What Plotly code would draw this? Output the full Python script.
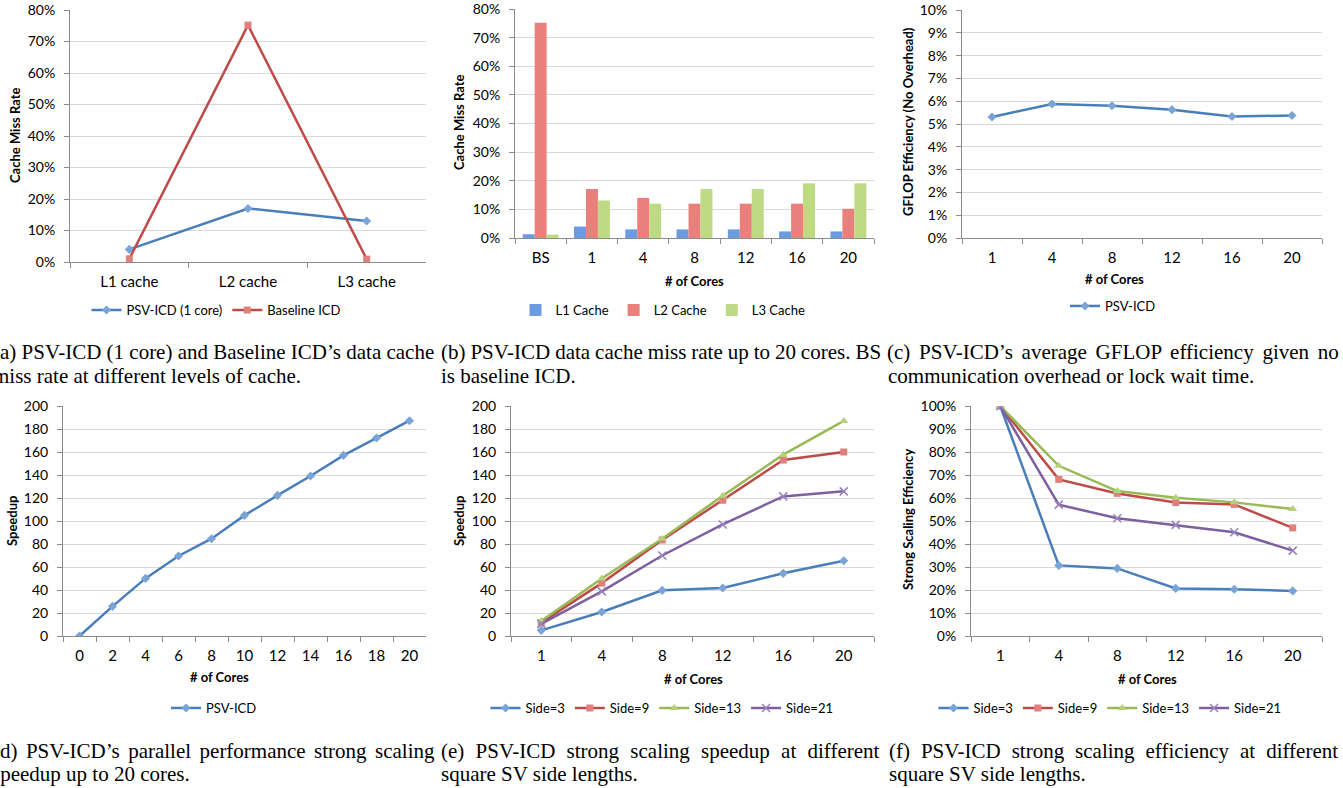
import plotly.graph_objects as go

W, H = 1343, 788

# ---------------- data ----------------
# (a)
cache_levels = ["L1 cache", "L2 cache", "L3 cache"]
psv_1core_miss = [0.040, 0.170, 0.130]
baseline_miss = [0.010, 0.752, 0.009]

# (b)
core_groups = ["BS", "1", "4", "8", "12", "16", "20"]
l1_miss = [0.013, 0.040, 0.030, 0.030, 0.030, 0.023, 0.023]
l2_miss = [0.752, 0.171, 0.140, 0.120, 0.120, 0.120, 0.102]
l3_miss = [0.012, 0.131, 0.120, 0.171, 0.171, 0.191, 0.191]

# (c)
cores = ["1", "4", "8", "12", "16", "20"]
gflop_eff = [0.0531, 0.0588, 0.0580, 0.0563, 0.0533, 0.0537]

# (d)
cores_d = ["0", "2", "4", "6", "8", "10", "12", "14", "16", "18", "20"]
speedup_d = [0, 25.8, 50.1, 69.6, 84.6, 104.9, 122.3, 139.1, 157.1, 172.2, 187.2]

# (e)
side3_speedup = [4.9, 20.9, 39.7, 41.7, 54.5, 65.5]
side9_speedup = [11.6, 46.0, 83.5, 118.0, 153.0, 160.0]
side13_speedup = [13.0, 50.0, 84.6, 122.0, 157.7, 187.0]
side21_speedup = [10.5, 38.8, 70.0, 97.0, 121.4, 125.8]

# (f)
side3_eff = [1.0, 0.307, 0.294, 0.207, 0.203, 0.196]
side9_eff = [1.0, 0.681, 0.620, 0.580, 0.572, 0.470]
side13_eff = [1.0, 0.740, 0.630, 0.601, 0.581, 0.552]
side21_eff = [1.0, 0.571, 0.512, 0.483, 0.451, 0.371]

# ---------------- styling ----------------
FONT = "Lato"
SERIF = "Liberation Serif"
BLUE, RED, GREEN, PURPLE = "#4a7ebb", "#be4b48", "#98b954", "#7d60a0"
BLUE_M, RED_M, GREEN_M, PURPLE_M = "#7aa3d6", "#e0807d", "#b5d27a", "#9a82bb"
GRID = "#d9d9d9"
AXIS = "#8c8c8c"


def px_x(p):
    return p / W


def px_y(p):
    return 1 - p / H


fig = go.Figure()


def line(name, xs, ys, color, mcolor, symbol, ax, leg, msize=7):
    mk = dict(symbol=symbol, size=msize, color=mcolor, line=dict(width=0))
    if symbol.startswith("x"):
        mk = dict(symbol="x-thin", size=msize, color=mcolor, line=dict(width=1.6, color=mcolor))
    fig.add_trace(go.Scatter(
        x=xs, y=ys, name=name, mode="lines+markers",
        line=dict(color=color, width=2.5), marker=mk,
        xaxis="x" + ax, yaxis="y" + ax, legend=leg,
    ))


# (a)
line("PSV-ICD (1 core)", cache_levels, psv_1core_miss, BLUE, BLUE_M, "diamond", "", "legend")
line("Baseline ICD", cache_levels, baseline_miss, RED, RED_M, "square", "", "legend", 7)

# (b)
for nm, vals, col in [("L1 Cache", l1_miss, "#6b9be0"),
                      ("L2 Cache", l2_miss, "#e9807c"),
                      ("L3 Cache", l3_miss, "#bedb83")]:
    fig.add_trace(go.Bar(x=core_groups, y=vals, name=nm, marker=dict(color=col, line=dict(width=0)),
                         xaxis="x2", yaxis="y2", legend="legend2"))

# (c)
line("PSV-ICD", cores, gflop_eff, BLUE, BLUE_M, "diamond", "3", "legend3")

# (d)
line("PSV-ICD", cores_d, speedup_d, BLUE, BLUE_M, "diamond", "4", "legend4")

# (e)
line("Side=3", cores, side3_speedup, BLUE, BLUE_M, "diamond", "5", "legend5")
line("Side=9", cores, side9_speedup, RED, RED_M, "square", "5", "legend5")
line("Side=13", cores, side13_speedup, GREEN, GREEN_M, "triangle-up", "5", "legend5", 8)
line("Side=21", cores, side21_speedup, PURPLE, PURPLE_M, "x", "5", "legend5", 8)

# (f)
line("Side=3", cores, side3_eff, BLUE, BLUE_M, "diamond", "6", "legend6")
line("Side=9", cores, side9_eff, RED, RED_M, "square", "6", "legend6")
line("Side=13", cores, side13_eff, GREEN, GREEN_M, "triangle-up", "6", "legend6", 8)
line("Side=21", cores, side21_eff, PURPLE, PURPLE_M, "x", "6", "legend6", 8)

# ---------------- axes ----------------
panels = {
    # key: (x0, x1, ytop, ybottom, n categories) in pixels
    "": (70, 426, 10, 262, len(cache_levels)),
    "2": (515, 874, 9, 238, len(core_groups)),
    "3": (962, 1322, 10, 238, len(cores)),
    "4": (63, 426, 406, 636, len(cores_d)),
    "5": (511, 874, 406, 636, len(cores)),
    "6": (971, 1322, 406, 636, len(cores)),
}
yranges = {
    "": ([0, 0.80001], 0.1, ".0%"),
    "2": ([0, 0.80001], 0.1, ".0%"),
    "3": ([0, 0.100001], 0.01, ".0%"),
    "4": ([0, 200.001], 20, None),
    "5": ([0, 200.001], 20, None),
    "6": ([0, 1.00001], 0.1, ".0%"),
}

layout = dict(
    width=W, height=H, margin=dict(l=0, r=0, t=0, b=0),
    paper_bgcolor="white", plot_bgcolor="white",
    font=dict(family=FONT, size=14, color="#000000"),
    bargap=0.3, bargroupgap=0.0, barmode="group",
)
for k, (x0, x1, yt, yb, n) in panels.items():
    rng, dt, fmt = yranges[k]
    layout["xaxis" + k] = dict(
        domain=[px_x(x0), px_x(x1)], anchor="y" + k, type="category",
        range=[-0.5, n - 0.5],
        showline=True, linecolor=AXIS, linewidth=1, ticks="outside", ticklen=5,
        tickcolor=AXIS, tickson="boundaries", showgrid=False, zeroline=False,
        tickfont=dict(family=FONT, size=15, color="#000"), ticklabelstandoff=6,
        ticklabeloverflow="allow", fixedrange=True, automargin=False,
    )
    yd = dict(
        domain=[px_y(yb), px_y(yt)], anchor="x" + k, range=rng, dtick=dt, tick0=0,
        showline=True, linecolor=AXIS, linewidth=1, ticks="outside", ticklen=5,
        tickcolor=AXIS, showgrid=True, gridcolor=GRID, gridwidth=1, zeroline=False,
        tickfont=dict(family=FONT, size=14, color="#000"), ticklabelstandoff=6,
        ticklabeloverflow="allow", fixedrange=True, automargin=False,
    )
    if fmt:
        yd["tickformat"] = fmt
    layout["yaxis" + k] = yd

# legends
leg_common = dict(orientation="h", xanchor="center", yanchor="middle",
                  font=dict(family=FONT, size=13, color="#000"), bgcolor="rgba(0,0,0,0)",
                  itemwidth=30, tracegroupgap=0)
leg_pos = {
    "legend": (216, 310),
    "legend2": (663, 310),
    "legend3": (1113, 306),
    "legend4": (214, 708),
    "legend5": (662, 708),
    "legend6": (1110, 708),
}
for lk, (cx, cy) in leg_pos.items():
    d = dict(leg_common)
    d.update(x=px_x(cx), y=px_y(cy))
    layout[lk] = d

fig.update_layout(**layout)

# axis titles (bold) as annotations
ann = []


def title_ann(text, cx, cy, angle=0):
    ann.append(dict(text="<b>%s</b>" % text, x=px_x(cx), y=px_y(cy), xref="paper", yref="paper",
                    showarrow=False, textangle=angle, xanchor="center", yanchor="middle",
                    font=dict(family=FONT, size=13, color="#000")))


title_ann("Cache Miss Rate", 15, 135, -90)
title_ann("Cache Miss Rate", 459, 122, -90)
title_ann("GFLOP Efficiency (No Overhead)", 908, 122, -90)
title_ann("Speedup", 12, 521, -90)
title_ann("Speedup", 459, 521, -90)
title_ann("Strong Scaling Efficiency", 908, 520, -90)
title_ann("# of Cores", 694, 281)
title_ann("# of Cores", 1114, 279)
title_ann("# of Cores", 219, 677)
title_ann("# of Cores", 693, 679)
title_ann("# of Cores", 1147, 679)


def caption(text, x, cy, ws=0.0):
    if ws:
        text = '<span style="word-spacing:%.1fpx">%s</span>' % (ws, text)
    ann.append(dict(text=text, x=0, xshift=x, y=px_y(cy), xref="paper", yref="paper",
                    showarrow=False, xanchor="left", yanchor="middle", borderpad=0,
                    font=dict(family=SERIF, size=21, color="#000")))


caption("(a) PSV-ICD (1 core) and Baseline ICD’s data cache", -8, 352)
caption("miss rate at different levels of cache.", -8, 376)
caption("(b) PSV-ICD data cache miss rate up to 20 cores. BS", 440, 352, -0.3)
caption("is baseline ICD.", 440, 376)
caption("(c) PSV-ICD’s average GFLOP efficiency given no", 886, 352, 3.5)
caption("communication overhead or lock wait time.", 887, 376)
caption("(d) PSV-ICD’s parallel performance strong scaling", -8, 751, 3.2)
caption("speedup up to 20 cores.", -9, 774)
caption("(e) PSV-ICD strong scaling speedup at different", 440, 751, 6.0)
caption("square SV side lengths.", 440, 774)
caption("(f) PSV-ICD strong scaling efficiency at different", 888, 751, 5.7)
caption("square SV side lengths.", 888, 774)

fig.update_layout(annotations=ann)
fig.write_html("out.html", config={"displayModeBar": False},
               post_script="document.body.style.margin='0';document.body.style.overflow='hidden';")
